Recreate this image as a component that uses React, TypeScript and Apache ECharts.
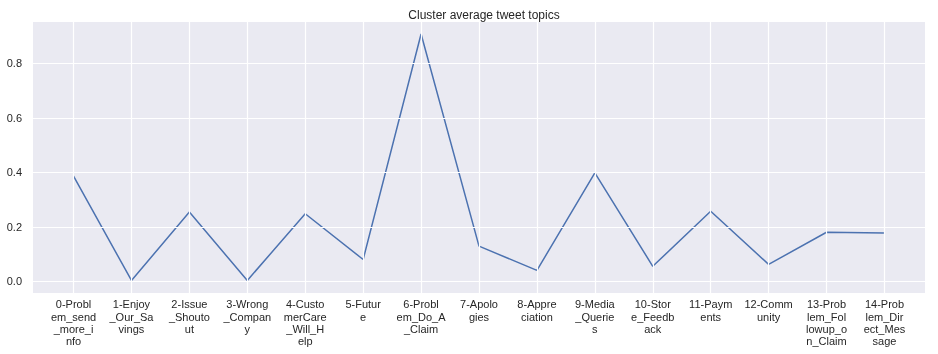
import React, { useEffect, useRef } from "react";
import * as echarts from "echarts";

const categories = [
  "0-Problem_send_more_info",
  "1-Enjoy_Our_Savings",
  "2-Issue_Shoutout",
  "3-Wrong_Company",
  "4-CustomerCare_Will_Help",
  "5-Future",
  "6-Problem_Do_A_Claim",
  "7-Apologies",
  "8-Appreciation",
  "9-Media_Queries",
  "10-Store_Feedback",
  "11-Payments",
  "12-Community",
  "13-Problem_Followup_on_Claim",
  "14-Problem_Direct_Message",
];

const values = [0.386, 0.003, 0.254, 0.003, 0.248, 0.08, 0.908, 0.129, 0.04, 0.398, 0.055, 0.257, 0.062, 0.18, 0.177];

const yTicks = [0, 0.2, 0.4, 0.6, 0.8];

const wrap = (s: string, n: number) => {
  const parts: string[] = [];
  for (let i = 0; i < s.length; i += n) parts.push(s.slice(i, i + n));
  return parts.join("\n");
};

export default function App() {
  const ref = useRef<HTMLDivElement>(null);
  useEffect(() => {
    if (!ref.current) return;
    const chart = echarts.init(ref.current, null, { renderer: "svg" });
    const xIdx = categories.map((_, i) => i);
    const textColor = "#262626";
    const font = "'Liberation Sans', Arial, sans-serif";
    chart.setOption({
      animation: false,
      title: {
        text: "Cluster average tweet topics",
        left: 479,
        textAlign: "center",
        top: 4,
        textStyle: { fontSize: 12, fontWeight: "normal", color: textColor, fontFamily: font },
      },
      grid: {
        left: 33,
        top: 22,
        width: 892,
        height: 271,
        show: true,
        backgroundColor: "#EAEAF2",
        borderWidth: 0,
      },
      xAxis: {
        type: "value",
        min: -0.7,
        max: 14.7,
        splitLine: { show: false },
        axisLine: { show: false },
        axisTick: { show: false },
        axisLabel: {
          customValues: xIdx,
          formatter: (v: number) => wrap(categories[Math.round(v)] ?? "", 7),
          color: textColor,
          fontSize: 11,
          lineHeight: 12.4,
          margin: 5,
          fontFamily: font,
        },
      },
      yAxis: {
        type: "value",
        min: -0.043,
        max: 0.952,
        splitLine: { show: false },
        axisLine: { show: false },
        axisTick: { show: false },
        axisLabel: {
          customValues: yTicks,
          formatter: (v: number) => v.toFixed(1),
          color: textColor,
          fontSize: 11,
          margin: 11,
          fontFamily: font,
        },
      },
      series: [
        {
          type: "line",
          data: [],
          z: 1,
          silent: true,
          markLine: {
            silent: true,
            symbol: ["none", "none"],
            label: { show: false },
            animation: false,
            lineStyle: { color: "#ffffff", width: 1.2, type: "solid" },
            emphasis: { disabled: true },
            data: [
              ...xIdx.map((x) => ({ xAxis: x })),
              ...yTicks.map((y) => ({ yAxis: y })),
            ],
          },
        },
        {
          type: "line",
          z: 3,
          data: values.map((v, i) => [i, v]),
          showSymbol: false,
          symbol: "none",
          lineStyle: { color: "#4C72B0", width: 1.5 },
          itemStyle: { color: "#4C72B0" },
        },
      ],
    });
    return () => chart.dispose();
  }, []);
  return (
    <div
      ref={ref}
      style={{ position: "fixed", left: 0, top: 0, width: 938, height: 354 }}
    />
  );
}
